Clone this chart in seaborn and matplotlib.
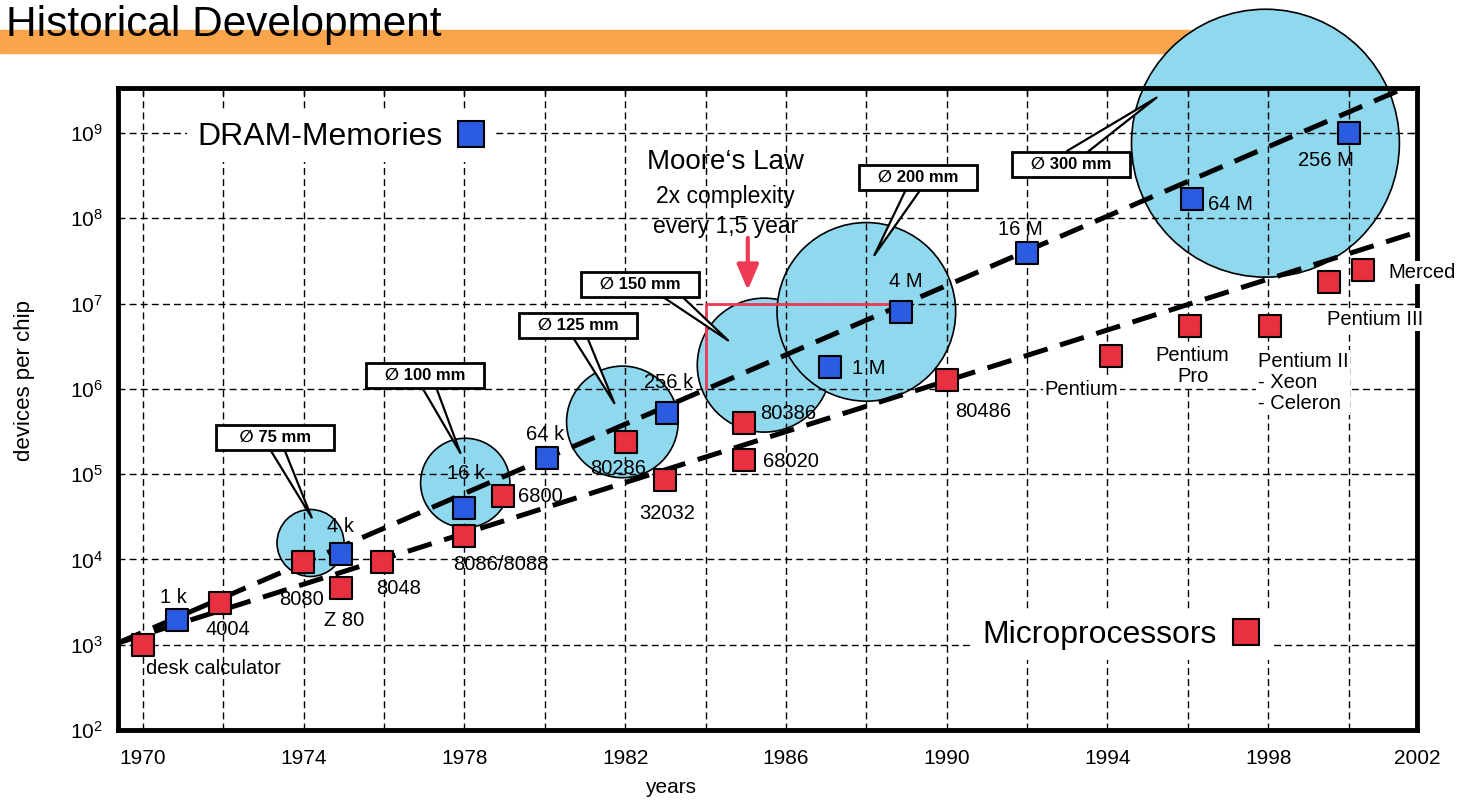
import seaborn as sns
import matplotlib.pyplot as plt
from matplotlib.lines import Line2D
from matplotlib.patches import Rectangle
from matplotlib.ticker import NullLocator

# DRAM generations (blue squares)
dram_years = [1970.84, 1974.94, 1978.0, 1980.05, 1983.05, 1987.09, 1988.87, 1992.0, 1996.1, 2000.0]
dram_devices = [1.95e3, 1.16e4, 4.0e4, 1.55e5, 5.2e5, 1.8e6, 7.96e6, 3.9e7, 1.68e8, 1.0e9]
dram_names = ['1 k', '4 k', '16 k', '64 k', '256 k', '1 M', '4 M', '16 M', '64 M', '256 M']

# microprocessors (red squares)
mpu_years = [1970.0, 1971.93, 1973.98, 1974.94, 1975.95, 1977.98, 1978.96, 1982.02, 1983.0,
             1984.96, 1984.96, 1990.0, 1994.08, 1996.05, 1998.05, 1999.52, 2000.35]
mpu_devices = [1.0e3, 3.1e3, 9.3e3, 4.6e3, 9.3e3, 1.9e4, 5.5e4, 2.4e5, 8.5e4,
               4.0e5, 1.47e5, 1.27e6, 2.4e6, 5.5e6, 5.5e6, 1.8e7, 2.5e7]
mpu_names = ['desk calculator', '4004', '8080', 'Z 80', '8048', '8086/8088', '6800', '80286', '32032',
             '80386', '68020', '80486', 'Pentium', 'Pentium\nPro', 'Pentium II\n- Xeon\n- Celeron',
             'Pentium III', 'Merced']

# wafer sizes
wafer_mm = [75, 100, 125, 150, 200, 300]
wafer_years = [1974.17, 1978.02, 1981.93, 1985.46, 1988.0, 1997.93]
wafer_devices = [1.56e4, 7.9e4, 4.1e5, 1.9e6, 8.0e6, 7.6e8]

# trend lines
trend_years = [1969.38, 2001.7]
dram_trend = [1.05e3, 3.9e9]
mpu_trend = [1.05e3, 6.9e7]

# Moore's law step: one decade in five years
moore_years = [1984.0, 1984.0, 1989.0]
moore_devices = [1.0e6, 1.0e7, 1.0e7]

xtick_pos = [1970, 1974, 1978, 1982, 1986, 1990, 1994, 1998, 2001.7]
xtick_labels = ['1970', '1974', '1978', '1982', '1986', '1990', '1994', '1998', '2002']
ytick_pos = [1e2, 1e3, 1e4, 1e5, 1e6, 1e7, 1e8, 1e9]
ytick_labels = [r'$10^{%d}$' % e for e in range(2, 10)]

BLUE = '#2a5be0'
RED = '#e8303f'
WAFER = '#8fd8ee'
MOORE_RED = '#ee3a55'

sns.set_style('white')
plt.rcParams['font.family'] = ['Liberation Sans', 'DejaVu Sans']
plt.rcParams['mathtext.default'] = 'regular'
for key in ['text.color', 'axes.labelcolor', 'xtick.color', 'ytick.color']:
    plt.rcParams[key] = 'black'

fig = plt.figure(figsize=(14.62, 8.01), dpi=100)
ax = fig.add_axes([0.0807, 0.0886, 0.8885, 0.8015])
ax.set_yscale('log')

# wafers as circles, diameter proportional to wafer size
sns.scatterplot(x=wafer_years, y=wafer_devices, size=wafer_mm,
                sizes={d: (0.643 * d) ** 2 for d in wafer_mm},
                color=WAFER, edgecolor='black', linewidth=1.2, alpha=1,
                clip_on=False, zorder=1, legend=False, ax=ax)

ax.plot(trend_years, dram_trend, color='black', lw=3.6, dashes=(5, 2.6), zorder=3)
ax.plot(trend_years, mpu_trend, color='black', lw=3.6, dashes=(5, 2.6), zorder=3)
ax.plot(moore_years, moore_devices, color=MOORE_RED, lw=2, zorder=3)

sns.scatterplot(x=dram_years, y=dram_devices, marker='s', s=250, color=BLUE,
                edgecolor='black', linewidth=1.5, zorder=4, legend=False, ax=ax)
sns.scatterplot(x=mpu_years, y=mpu_devices, marker='s', s=250, color=RED,
                edgecolor='black', linewidth=1.5, zorder=4, legend=False, ax=ax)

# data labels (offsets in points)
dram_offsets = [(-2, 16), (-1, 20), (1, 25), (-1, 17), (1, 22), (28, -1), (3, 22), (-5, 17), (28, -4), (-16, -20)]
for name, x, y, off in zip(dram_names, dram_years, dram_devices, dram_offsets):
    ax.annotate(name, (x, y), xytext=off, textcoords='offset points',
                ha='center', va='center', fontsize=14.5, zorder=5)

mpu_offsets = [(51, -17), (5, -19), (-1, -27), (2, -23), (12, -19), (27, -21), (27, 0), (-6, -19), (1, -24),
               (32, 7), (34, -1), (26, -23), (-21, -24), (2, -29), (-9, -41), (33, -27), (43, -2)]
mpu_ha = ['center'] * 14 + ['left', 'center', 'center']
mpu_box = [False] * 12 + [True] * 5
for name, x, y, off, ha, box in zip(mpu_names, mpu_years, mpu_devices, mpu_offsets, mpu_ha, mpu_box):
    bb = dict(boxstyle='square,pad=0.1', fc='white', ec='none') if box else None
    ax.annotate(name, (x, y), xytext=off, textcoords='offset points', ha=ha, va='center',
                fontsize=14.5, linespacing=1.15, bbox=bb, zorder=5, annotation_clip=False)

# wafer call-outs
tip_years = [1974.2, 1977.9, 1981.73, 1984.56, 1988.2, 1995.22]
tip_devices = [3.1e4, 1.77e5, 6.8e5, 3.7e6, 3.7e7, 2.6e9]
box_pos = [(0.1209, 0.4564), (0.2363, 0.5530), (0.3541, 0.6308), (0.4018, 0.6947), (0.6159, 0.8614), (0.7336, 0.8816)]
box_rel = [(0.5, 0), (0.52, 0), (0.5, 0), (0.75, 0), (0.48, 0), (0.5, 1)]
for mm, tx, ty, bp, rel in zip(wafer_mm, tip_years, tip_devices, box_pos, box_rel):
    pad = '    ' if mm < 100 else '   '
    ax.annotate(pad + '\u2205 %d mm' % mm + pad, xy=(tx, ty), xytext=bp, textcoords='axes fraction',
                ha='center', va='center', fontsize=12, fontweight='bold',
                bbox=dict(boxstyle='square,pad=0.3', fc='white', ec='black', lw=2),
                arrowprops=dict(arrowstyle='wedge,tail_width=0.7', relpos=rel, patchA=None,
                                fc='white', ec='black', lw=1.6, mutation_scale=14,
                                shrinkA=0, shrinkB=0),
                zorder=6, annotation_clip=False)

# Moore's law note
ax.text(0.4673, 0.8847, 'Moore\u2018s Law', transform=ax.transAxes, ha='center', va='center', fontsize=20, zorder=5)
ax.text(0.4673, 0.8318, '2x complexity', transform=ax.transAxes, ha='center', va='center', fontsize=16.5, zorder=5)
ax.text(0.4681, 0.7850, 'every 1,5 year', transform=ax.transAxes, ha='center', va='center', fontsize=16.5, zorder=5)
ax.annotate('', xy=(1985.05, 1.44e7), xytext=(1985.05, 5.9e7),
            arrowprops=dict(arrowstyle='-|>,head_width=0.3,head_length=0.7', color=MOORE_RED,
                            lw=3, mutation_scale=22, shrinkA=0, shrinkB=0), zorder=5)

# legends
dram_handle = Line2D([], [], marker='s', ls='none', ms=19, mfc=BLUE, mec='black', mew=1.5)
mpu_handle = Line2D([], [], marker='s', ls='none', ms=19, mfc=RED, mec='black', mew=1.5)
leg_kw = dict(loc='center', markerfirst=False, fontsize=23, frameon=True, framealpha=1,
              edgecolor='none', facecolor='white', fancybox=False, handlelength=1.0,
              handletextpad=0.4, borderpad=0.3)
leg1 = ax.legend([dram_handle], ['DRAM-Memories'], bbox_to_anchor=(0.1724, 0.9237), **leg_kw)
ax.add_artist(leg1)
ax.legend([mpu_handle], ['Microprocessors'], bbox_to_anchor=(0.773, 0.148), borderaxespad=0, **leg_kw)

# axes
ax.set_xlim(1969.38, 2001.7)
ax.set_ylim(100, 3.37e9)
ax.set_xticks(xtick_pos, xtick_labels)
ax.set_xticks(list(range(1972, 2001, 4)), minor=True)
ax.set_yticks(ytick_pos, ytick_labels)
ax.yaxis.set_minor_locator(NullLocator())
ax.set_axisbelow(False)
ax.grid(True, which='both', axis='x', color='black', linestyle=(0, (5, 3)), linewidth=1.0)
ax.grid(True, which='major', axis='y', color='black', linestyle=(0, (5, 3)), linewidth=1.0)
ax.tick_params(axis='x', which='both', direction='in', length=5, width=1, top=True, pad=14, labelsize=15)
ax.tick_params(axis='y', which='major', direction='in', length=5, width=1, right=True, pad=11, labelsize=15)
for sp in ax.spines.values():
    sp.set_visible(True)
    sp.set_color('black')
    sp.set_linewidth(3.5)

ax.set_xlabel('years', fontsize=15)
ax.set_ylabel('devices per chip', fontsize=16)
ax.xaxis.set_label_coords(0.425, -0.075)
ax.yaxis.set_label_coords(-0.064, 0.545)

# header
fig.add_artist(Rectangle((0, (801 - 53) / 801), 1330 / 1462, 23 / 801, transform=fig.transFigure,
                         color='#f9a54b', zorder=-1))
fig.text(0.004, 1 - 25 / 801, 'Historical Development', fontsize=30.5, ha='left', va='center')

fig.savefig('out.png', dpi=100)
